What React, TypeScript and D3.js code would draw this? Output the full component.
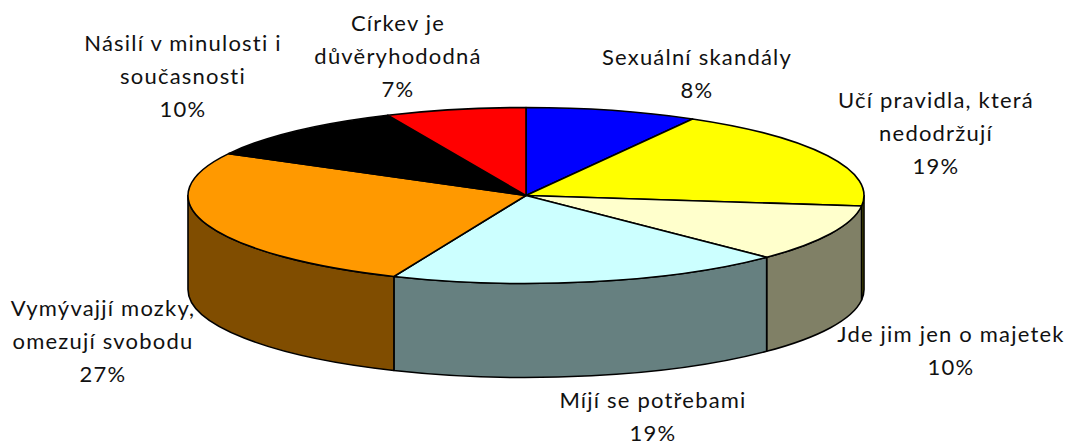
import React from "react";
import * as d3 from "d3";

const categories = ["Sexuální skandály", "Učí pravidla, která nedodržují", "Jde jim jen o majetek", "Míjí se potřebami", "Vymývajjí mozky, omezují svobodu", "Násilí v minulosti i současnosti", "Církev je důvěryhododná"];
const values = [8.2, 18.7, 10.49, 19.0, 26.5, 10.4, 6.71];
const topColors = ["#0000ff", "#ffff00", "#ffffcc", "#ccffff", "#ff9900", "#000000", "#ff0000"];
const sideColors = ["#000080", "#808000", "#808066", "#668080", "#804d00", "#000000", "#800000"];
const labelLines = [
  ["Sexuální skandály"],
  ["Učí pravidla, která", "nedodržují"],
  ["Jde jim jen o majetek"],
  ["Míjí se potřebami"],
  ["Vymývajjí mozky,", "omezují svobodu"],
  ["Násilí v minulosti i", "současnosti"],
  ["Církev je", "důvěryhododná"],
];
const labelX = [697, 936, 951, 653, 103, 183, 398];
const labelY = [57, 100, 334, 400, 308, 43, 23];

const W = 1067, H = 446;
const cx = 526, cy = 195.5, rx = 338, ry = 88, depth = 94;
const LINE = 33.3;

const pt = (a: number, dy = 0): [number, number] => [cx + rx * Math.sin(a), cy - ry * Math.cos(a) + dy];
const f = (p: [number, number]) => `${p[0].toFixed(2)},${p[1].toFixed(2)}`;
const arcTo = (a0: number, a1: number, dy = 0, sweep = 1) =>
  `A${rx},${ry} 0 ${Math.abs(a1 - a0) > Math.PI ? 1 : 0} ${sweep} ${f(pt(a1, dy))}`;

export default function App() {
  const pie = d3.pie<number>().sort(null).value((d) => d);
  const arcs = pie(values);
  const fmt = d3.format(".0%");
  const HALF = Math.PI / 2;
  return (
    <svg width={W} height={H} style={{ position: "absolute", left: 0, top: 0, background: "#fff" }} fontFamily="Lato, 'Open Sans', sans-serif" fontSize={22} letterSpacing={1.2} fill="#111">
      {arcs.map((s, i) => {
        const a0 = Math.max(s.startAngle, HALF);
        const a1 = Math.min(s.endAngle, 3 * HALF);
        if (a1 <= a0) return null;
        return (
          <path key={i} fill={sideColors[i]} stroke="#000" strokeWidth={1.6} strokeLinejoin="round"
            d={`M${f(pt(a0))}${arcTo(a0, a1)}L${f(pt(a1, depth))}${arcTo(a1, a0, depth, 0)}Z`} />
        );
      })}
      {arcs.map((s, i) => (
        <path key={i} fill={topColors[i]} stroke="#000" strokeWidth={1.6} strokeLinejoin="round"
          d={`M${cx},${cy}L${f(pt(s.startAngle))}${arcTo(s.startAngle, s.endAngle)}Z`} />
      ))}
      {categories.map((c, i) => {
        const lines = [...labelLines[i], fmt(Math.round(values[i]) / 100)];
        return (
          <text key={c} textAnchor="middle">
            {lines.map((l, j) => (
              <tspan key={j} x={labelX[i]} y={labelY[i] + j * LINE} dy="0.35em">{l}</tspan>
            ))}
          </text>
        );
      })}
    </svg>
  );
}
